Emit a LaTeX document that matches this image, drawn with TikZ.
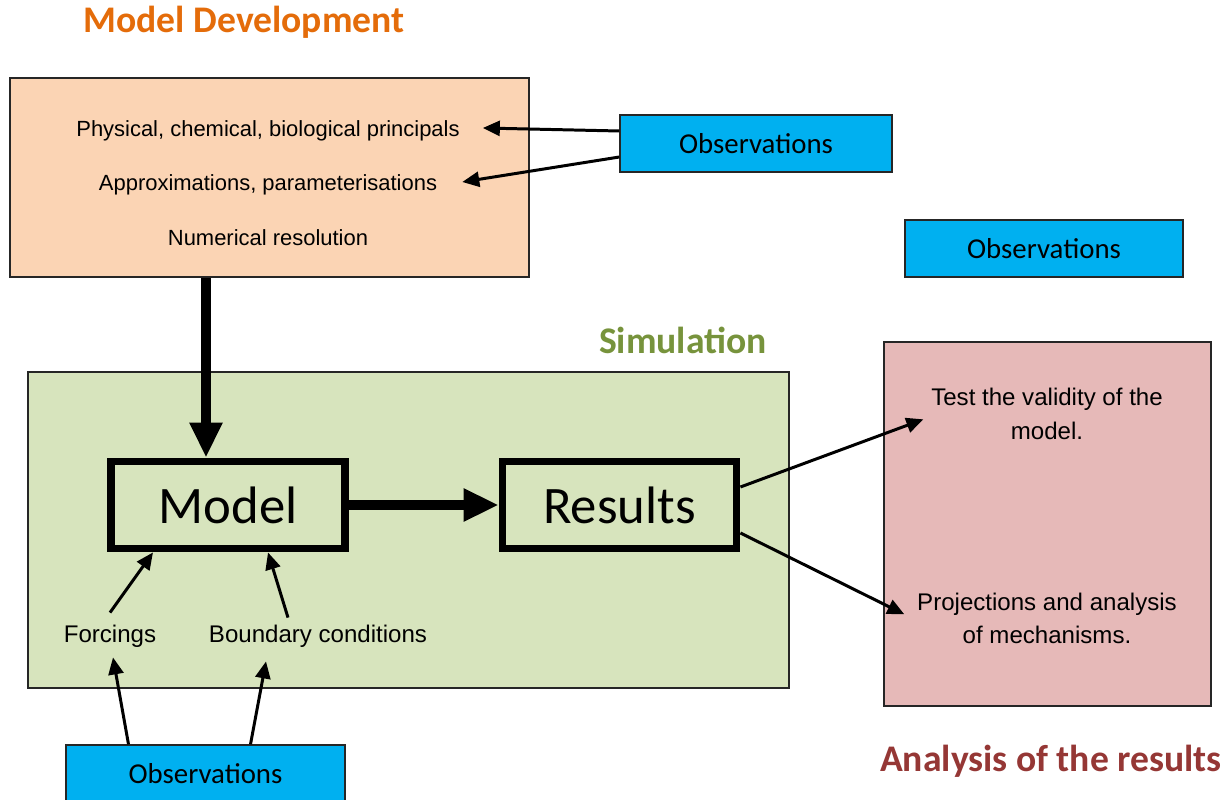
\documentclass[tikz,border=0pt]{standalone}
\usepackage{fontspec}
\setmainfont{Liberation Sans}
\newfontfamily\calfont{Carlito}
\usepackage{tikz}
\usetikzlibrary{arrows.meta,positioning}

\definecolor{devorange}{HTML}{E46C0A}
\definecolor{devpeach}{HTML}{FBD4B4}
\definecolor{simolive}{HTML}{77933C}
\definecolor{simfill}{HTML}{D7E4BD}
\definecolor{obsblue}{HTML}{00B0F0}
\definecolor{anapink}{HTML}{E6B9B8}
\definecolor{anared}{HTML}{953735}

\begin{document}
\begin{tikzpicture}[x=0.02cm,y=-0.02cm,
    box/.style={draw=black!85,line width=0.8pt,inner sep=0pt},
    obsbox/.style={box,fill=obsblue,minimum width=5.44cm,minimum height=1.14cm,font=\calfont\fontsize{16.4}{19}\selectfont},
    bigbox/.style={draw=black,line width=4.5pt,fill=simfill,minimum width=4.68cm,minimum height=1.74cm,font=\calfont\fontsize{30}{36}\selectfont},
    txt/.style={font=\fontsize{12.5}{19}\selectfont,align=center},
    bigtxt/.style={font=\fontsize{13.7}{19}\selectfont,align=center},
    headline/.style={font=\calfont\bfseries\fontsize{21.4}{26}\selectfont},
    feed/.style={-{Triangle[length=0.34cm,width=0.3cm]},line width=1.7pt},
    fat/.style={-{Triangle[length=0.7cm,width=0.62cm]},line width=5.7pt}]

        % page frame
        \clip (0,0) rectangle (1230,800);

        % draw model development
        \node[headline,text=devorange] (devTitle) at (244,22) {Model Development};
        \node[box,fill=devpeach,minimum width=10.38cm,minimum height=3.98cm] (devBox) at (269.5,177.5) {};
        \node[txt] (physTxt) at (268,131) {Physical, chemical, biological principals};
        \node[txt] (approxTxt) at (268,185) {Approximations, parameterisations};
        \node[txt] (numTxt) at (268,238) {Numerical resolution};

        % draw observation boxes
        \node[obsbox] (obsTop) at (756,143.5) {Observations};
        \node[obsbox,minimum width=5.56cm] (obsRight) at (1044,248.5) {Observations};
        \node[obsbox,minimum width=5.58cm] (obsBottom) at (205.5,773.5) {Observations};

        % draw simulation
        \node[headline,text=simolive] (simTitle) at (683,340) {Simulation};
        \node[box,fill=simfill,minimum width=15.22cm,minimum height=6.32cm] (simBox) at (408.5,530) {};
        \node[bigbox] (modelBox) at (228,505) {Model};
        \node[bigbox] (resultsBox) at (619.5,505) {Results};
        \node[bigtxt] (forcTxt) at (110,636) {Forcings};
        \node[bigtxt] (bcTxt) at (318,636) {Boundary conditions};

        % draw analysis of the results
        \node[box,fill=anapink,minimum width=6.54cm,minimum height=7.28cm] (anaBox) at (1047.5,524) {};
        \node[bigtxt] (testTxt) at (1047,414) {Test the validity of the\\model.};
        \node[bigtxt] (projTxt) at (1047,618.5) {Projections and analysis\\of mechanisms.};
        \node[headline,text=anared] (anaTitle) at (1051,761) {Analysis of the results};

        % draw arrows
        \draw[feed] ([shift={(0,-12.5)}]obsTop.west) -- ([shift={(17,-3)}]physTxt.east);
        \draw[feed] ([shift={(0,13.5)}]obsTop.west) -- ([shift={(19,-3)}]approxTxt.east);
        \draw[fat] ([shift={(-63.5,0)}]devBox.south) -- ([shift={(-22,0)}]modelBox.north);
        \draw[fat] (modelBox) -- (resultsBox);
        \draw[feed] ([shift={(0,-6)}]forcTxt.north) -- ([shift={(-75,0)}]modelBox.south);
        \draw[feed] ([shift={(-30,-1)}]bcTxt.north) -- ([shift={(40,0)}]modelBox.south);
        \draw[feed] ([shift={(-77,0)}]obsBottom.north) -- ([shift={(3,4)}]forcTxt.south);
        \draw[feed] ([shift={(45,0)}]obsBottom.north) -- ([shift={(-52,8)}]bcTxt.south);
        \draw[feed] ([shift={(0,-18)}]resultsBox.east) -- ([shift={(40,78)}]anaBox.north west);
        \draw[feed] ([shift={(0,28)}]resultsBox.east) -- ([shift={(21,273)}]anaBox.north west);
\end{tikzpicture}
\end{document}
